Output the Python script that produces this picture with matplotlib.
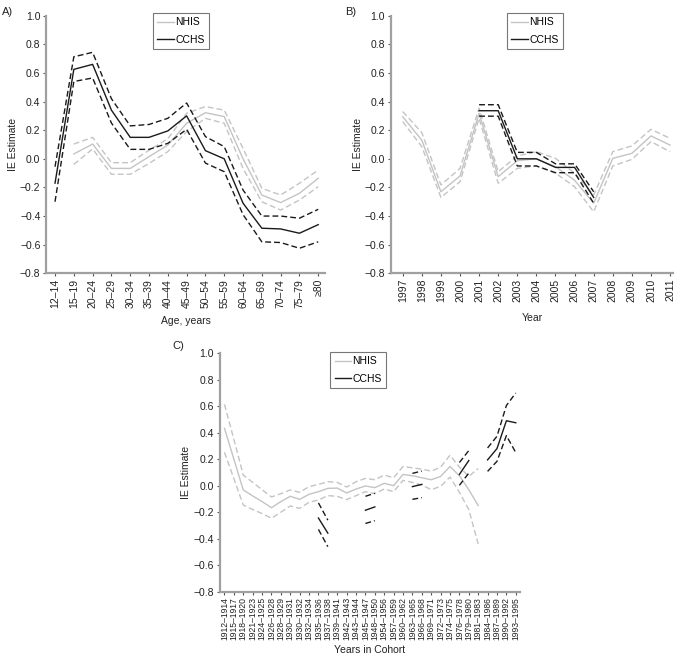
import numpy as np
import matplotlib
matplotlib.use("Agg")
import matplotlib.pyplot as plt
from matplotlib.lines import Line2D

plt.rcParams['font.family'] = ['Liberation Sans', 'DejaVu Sans']

nan = np.nan

# ---------------- Panel A: age ----------------
age_labels = ["12\u201314", "15\u201319", "20\u201324", "25\u201329", "30\u201334", "35\u201339",
              "40\u201344", "45\u201349", "50\u201354", "55\u201359", "60\u201364", "65\u201369",
              "70\u201374", "75\u201379", "\u226580"]
a_nhis = [nan, 0.034, 0.103, -0.067, -0.067, 0.015, 0.096, 0.248, 0.322, 0.295, 0.0,
          -0.253, -0.306, -0.241, -0.136]
a_nhis_hi = [nan, 0.103, 0.15, -0.027, -0.027, 0.06, 0.14, 0.318, 0.365, 0.34, 0.073,
             -0.206, -0.253, -0.171, -0.078]
a_nhis_lo = [nan, -0.039, 0.069, -0.108, -0.108, -0.032, 0.05, 0.19, 0.283, 0.248, -0.067,
             -0.3, -0.358, -0.288, -0.195]
a_cchs = [-0.17, 0.625, 0.66, 0.34, 0.15, 0.15, 0.195, 0.30, 0.057, 0.0, -0.31,
          -0.485, -0.49, -0.52, -0.46]
a_cchs_hi = [-0.055, 0.713, 0.744, 0.42, 0.23, 0.24, 0.283, 0.39, 0.155, 0.085, -0.218,
             -0.40, -0.40, -0.415, -0.353]
a_cchs_lo = [-0.30, 0.54, 0.565, 0.25, 0.066, 0.066, 0.108, 0.206, -0.03, -0.09, -0.39,
             -0.58, -0.585, -0.625, -0.58]

# ---------------- Panel B: year ----------------
year_labels = [str(y) for y in range(1997, 2012)]
b_nhis = [0.294, 0.13, -0.23, -0.12, 0.318, -0.125, -0.013, 0.0, -0.055, -0.15, -0.31,
          0.003, 0.038, 0.16, 0.096]
b_nhis_hi = [0.33, 0.183, -0.183, -0.067, 0.353, -0.09, 0.02, 0.05, 0.003, -0.1, -0.253,
             0.05, 0.09, 0.206, 0.143]
b_nhis_lo = [0.26, 0.085, -0.27, -0.16, 0.283, -0.171, -0.067, -0.05, -0.1, -0.195, -0.37,
             -0.05, -0.004, 0.12, 0.05]
b_cchs = [nan, nan, nan, nan, 0.336, 0.336, 0.0, 0.0, -0.06, -0.06, -0.27,
          nan, nan, nan, nan]
b_cchs_hi = [nan, nan, nan, nan, 0.378, 0.378, 0.045, 0.045, -0.035, -0.035, -0.23,
             nan, nan, nan, nan]
b_cchs_lo = [nan, nan, nan, nan, 0.298, 0.298, -0.05, -0.05, -0.097, -0.097, -0.31,
             nan, nan, nan, nan]

# ---------------- Panel C: cohort ----------------
cohort_labels = ["1912\u20131914", "1915\u20131917", "1918\u20131920", "1921\u20131923",
                 "1924\u20131925", "1926\u20131928", "1928\u20131929", "1930\u20131931",
                 "1930\u20131932", "1932\u20131934", "1935\u20131936", "1937\u20131938",
                 "1939\u20131941", "1942\u20131943", "1943\u20131944", "1945\u20131947",
                 "1948\u20131950", "1954\u20131956", "1957\u20131959", "1960\u20131962",
                 "1963\u20131965", "1966\u20131968", "1969\u20131971", "1972\u20131973",
                 "1974\u20131975", "1976\u20131978", "1979\u20131980", "1981\u20131983",
                 "1984\u20131986", "1987\u20131989", "1990\u20131992", "1993\u20131995"]
c_nhis = [0.433, 0.20, -0.032, -0.077, -0.12, -0.166, -0.12, -0.08, -0.103, -0.065,
          -0.045, -0.02, -0.018, -0.055, -0.025, -0.002, -0.015, 0.018, 0.0, 0.085,
          0.075, 0.06, 0.045, 0.07, 0.145, 0.075, -0.03, -0.15,
          nan, nan, nan, nan]
c_nhis_hi = [0.614, 0.35, 0.08, 0.025, -0.03, -0.085, -0.06, -0.032, -0.05, -0.007,
             0.01, 0.03, 0.025, -0.01, 0.03, 0.055, 0.045, 0.08, 0.06, 0.145,
             0.135, 0.125, 0.11, 0.14, 0.23, 0.14, 0.07, 0.13,
             nan, nan, nan, nan]
c_nhis_lo = [0.252, 0.053, -0.146, -0.18, -0.21, -0.246, -0.2, -0.153, -0.171, -0.125,
             -0.108, -0.075, -0.08, -0.105, -0.075, -0.045, -0.06, -0.025, -0.045, 0.04,
             0.025, 0.005, -0.03, -0.005, 0.065, -0.05, -0.18, -0.44,
             nan, nan, nan, nan]
c_cchs = [nan] * 10 + [-0.244, -0.358] + [nan] * 3 + [-0.185, -0.16] + [nan] * 3 + \
         [-0.007, 0.01] + [nan] * 3 + [0.085, 0.19] + [nan] + [0.195, 0.28, 0.49, 0.475]
c_cchs_hi = [nan] * 10 + [-0.13, -0.26] + [nan] * 3 + [-0.08, -0.057] + [nan] * 3 + \
            [0.093, 0.111] + [nan] * 3 + [0.175, 0.265] + [nan] + [0.285, 0.373, 0.605, 0.70]
c_cchs_lo = [nan] * 10 + [-0.33, -0.46] + [nan] * 3 + [-0.285, -0.264] + [nan] * 3 + \
            [-0.103, -0.09] + [nan] * 3 + [0.003, 0.095] + [nan] + [0.108, 0.184, 0.378, 0.25]

GRAY = '#c4c4c4'
BLACK = '#1a1a1a'
SPINE = '#a0a0a0'

fig = plt.figure(figsize=(6.75, 6.59), dpi=100)


def draw(ax, labels, nhis, nhis_hi, nhis_lo, cchs, cchs_hi, cchs_lo, xlim, tick_fs,
         xlabel, legend_bbox, ylabelpad, xlabelpad):
    x = np.arange(len(labels))
    dash = (0, (4.2, 2.2))

    def plot(vals, color, ls, skip_nan=False):
        v = np.array(vals, dtype=float)
        if skip_nan:
            m = ~np.isnan(v)
            ax.plot(x[m], v[m], color=color, lw=1.0, ls=ls)
        else:
            ax.plot(x, v, color=color, lw=1.0, ls=ls)

    plot(nhis, GRAY, '-', skip_nan=True)
    plot(nhis_hi, GRAY, dash, skip_nan=True)
    plot(nhis_lo, GRAY, dash, skip_nan=True)
    plot(cchs, BLACK, '-')
    plot(cchs_hi, BLACK, dash)
    plot(cchs_lo, BLACK, dash)

    ax.set_xlim(*xlim)
    ax.set_ylim(-0.8, 1.0)
    ax.set_xticks(x)
    ax.set_xticklabels(labels, rotation=90, fontsize=tick_fs)
    yt = np.arange(-0.8, 1.01, 0.2)
    ax.set_yticks(yt)
    ax.set_yticklabels([('%.1f' % (0.0 if abs(v) < 1e-9 else v)).replace('-', '\u2212')
                        for v in yt], fontsize=7.5)
    for s in ['top', 'right']:
        ax.spines[s].set_visible(False)
    for s in ['left', 'bottom']:
        ax.spines[s].set_color(SPINE)
        ax.spines[s].set_linewidth(1.6)
    ax.tick_params(axis='both', direction='out', length=2.5, width=0.8, color='#555555',
                   pad=1.5, labelcolor='#222222')
    ax.set_ylabel('IE Estimate', fontsize=7.5, color='#222222', labelpad=ylabelpad)
    ax.set_xlabel(xlabel, fontsize=7.5, color='#222222', labelpad=xlabelpad)

    handles = [Line2D([], [], color=GRAY, lw=1.0), Line2D([], [], color=BLACK, lw=1.0)]
    leg = ax.legend(handles, ['NHIS', 'CCHS'], loc='upper left', bbox_to_anchor=legend_bbox,
                    fontsize=7.5, frameon=True, fancybox=False, handlelength=1.6,
                    handletextpad=0.1, borderpad=0.45, labelspacing=0.7, borderaxespad=0)
    leg.get_frame().set_edgecolor('#555555')
    leg.get_frame().set_linewidth(0.8)


axA = fig.add_axes([46 / 675, 1 - 273.3 / 659, (325 - 46) / 675, (273.3 - 15.7) / 659])
draw(axA, age_labels, a_nhis, a_nhis_hi, a_nhis_lo, a_cchs, a_cchs_hi, a_cchs_lo,
     (-0.48, 14.36), 7.5, 'Age, years', ((152.7 - 46) / 279, 1.0 + 3 / 257.6), 1.5, 6)

axB = fig.add_axes([390.7 / 675, 1 - 273.3 / 659, (673.3 - 390.7) / 675, (273.3 - 15.7) / 659])
draw(axB, year_labels, b_nhis, b_nhis_hi, b_nhis_lo, b_cchs, b_cchs_hi, b_cchs_lo,
     (-0.63, 14.17), 7.5, 'Year', ((506.7 - 390.7) / 282.6, 1.0 + 3 / 257.6), 1.5, 8)

axC = fig.add_axes([219.5 / 675, 1 - 591.7 / 659, (520 - 219.5) / 675, (591.7 - 353.2) / 659])
draw(axC, cohort_labels, c_nhis, c_nhis_hi, c_nhis_lo, c_cchs, c_cchs_hi, c_cchs_lo,
     (-0.53, 31.45), 6.2, 'Years in Cohort', ((330 - 219.5) / 300.5, 1.0 + 1.5 / 238.5), 1.5, 3)

fig.text(2 / 675, 1 - 12 / 659, 'A)', fontsize=8, va='center', ha='left', color='#222222')
fig.text(345 / 675, 1 - 12 / 659, 'B)', fontsize=8, va='center', ha='left', color='#222222')
fig.text(172 / 675, 1 - 346 / 659, 'C)', fontsize=8, va='center', ha='left', color='#222222')

fig.savefig('out.png', dpi=100)
